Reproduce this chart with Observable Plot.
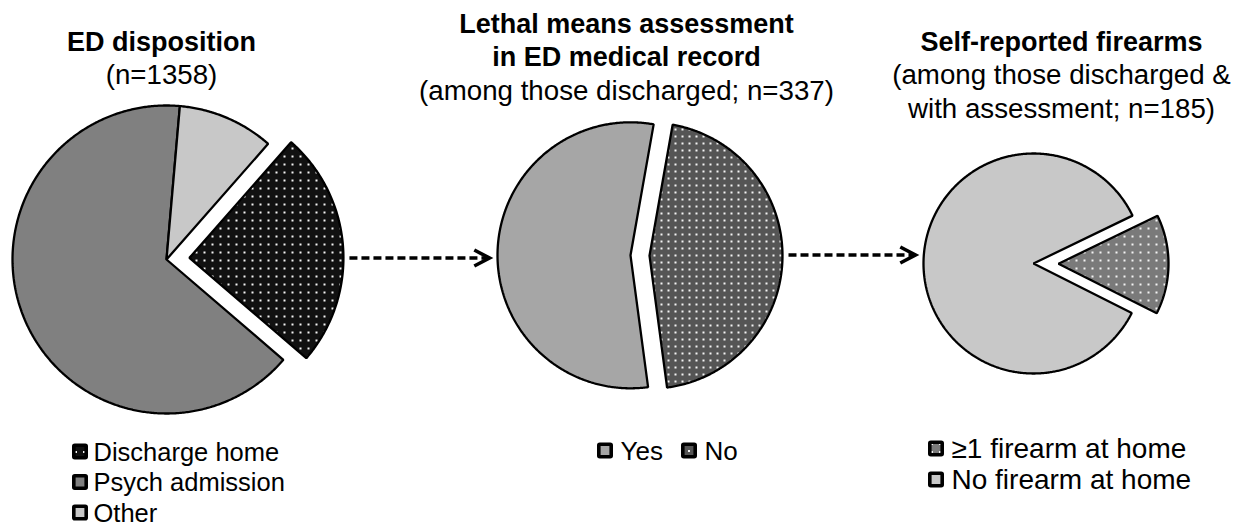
<!DOCTYPE html>
<html>
<head>
<meta charset="utf-8">
<script src="https://cdn.jsdelivr.net/npm/d3@7"></script>
<script src="https://cdn.jsdelivr.net/npm/@observablehq/plot@0.6"></script>
<style>
  html, body { margin: 0; padding: 0; background: #fff; }
</style>
</head>
<body>
<div id="chart"></div>
<script>
// ---------- data ----------
const dispositionCategories = ["Discharge home", "Psych admission", "Other"];
const dispositionCounts = [337, 884, 137];
const assessmentCategories = ["Yes", "No"];
const assessmentCounts = [185, 152];
const firearmCategories = ["≥1 firearm at home", "No firearm at home"];
const firearmCounts = [27, 158];
const panelTitles = [["ED disposition"], ["Lethal means assessment", "in ED medical record"], ["Self-reported firearms"]];
const panelSubtitles = [["(n=1358)"], ["(among those discharged; n=337)"], ["(among those discharged &", "with assessment; n=185)"]];

// ---------- styles ----------
const categoryFills = {
  "Discharge home": "url(#dots-black)",
  "Psych admission": "#808080",
  "Other": "#c8c8c8",
  "Yes": "#a6a6a6",
  "No": "url(#dots-dark)",
  "≥1 firearm at home": "url(#dots-mid)",
  "No firearm at home": "#c8c8c8"
};
const FONT = "Liberation Sans, Arial, Helvetica, sans-serif";

// ---------- layout ----------
const pies = [
  {cats: dispositionCategories, vals: dispositionCounts, cx: 166, cy: 259, r: 154, start: 41.3, explode: [23, 0, 0],
   titleX: 161, titleY: 50,
   legend: {x: 72, y: 460, dx: 0, dy: 30.5, gap: 21, size: 25.5}},
  {cats: assessmentCategories, vals: assessmentCounts, cx: 639.5, cy: 255, r: 133, start: 172.4, explode: [9.5, 9.5],
   titleX: 626, titleY: 32,
   legend: {x: 597, y: 459, dx: 84, dy: 0, gap: 23, size: 26}},
  {cats: firearmCategories, vals: firearmCounts, cx: 1033, cy: 263, r: 110, start: 64.2, explode: [25, 0],
   titleX: 1061, titleY: 50,
   legend: {x: 928, y: 457, dx: 0, dy: 31, gap: 23, size: 28}}
];
const lineH = 33.5;

// ---------- derived geometry ----------
const slicePoints = [];
const sliceExtent = [];
pies.forEach((p, pi) => {
  const a0 = p.start * Math.PI / 180;
  const arcs = d3.pie().sort(null).startAngle(a0).endAngle(a0 + 2 * Math.PI)(p.vals);
  arcs.forEach((a, i) => {
    const key = `${pi}-${i}`;
    const mid = (a.startAngle + a.endAngle) / 2;
    const e = p.explode[i] || 0;
    const ox = p.cx + e * Math.sin(mid), oy = p.cy - e * Math.cos(mid);
    slicePoints.push({key, category: p.cats[i], x: ox, y: oy});
    const n = Math.max(2, Math.ceil((a.endAngle - a.startAngle) / (Math.PI / 360)));
    for (let k = 0; k <= n; ++k) {
      const t = a.startAngle + (a.endAngle - a.startAngle) * k / n;
      slicePoints.push({key, category: p.cats[i], x: ox + p.r * Math.sin(t), y: oy - p.r * Math.cos(t)});
    }
  });
  const xs = slicePoints.filter(d => d.key.startsWith(pi + "-")).map(d => d.x);
  sliceExtent.push({left: d3.min(xs), right: d3.max(xs)});
});

const arrowYs = [257.5, 254.5];
const arrows = [0, 1].map(i => ({
  x1: sliceExtent[i].right + 6,
  x2: sliceExtent[i + 1].left - 8,
  y: arrowYs[i]
}));

const titleRows = [], subtitleRows = [];
pies.forEach((p, pi) => {
  panelTitles[pi].forEach((t, j) => titleRows.push({x: p.titleX, y: p.titleY + j * lineH, text: t}));
  const n0 = panelTitles[pi].length;
  panelSubtitles[pi].forEach((t, j) => subtitleRows.push({x: p.titleX, y: p.titleY + (n0 + j) * lineH, text: t}));
});

const legendItems = [];
pies.forEach((p, pi) => {
  const L = p.legend;
  p.cats.forEach((c, i) => {
    legendItems.push({panel: pi, category: c, sx: L.x + i * L.dx, base: L.y + i * L.dy, tx: L.x + i * L.dx + L.gap, size: L.size});
  });
});

const allCats = [...dispositionCategories, ...assessmentCategories, ...firearmCategories];

const chevron = {
  draw(context, size) {
    const r = Math.sqrt(size / Math.PI);
    context.moveTo(-1.9 * r, -r);
    context.lineTo(0, 0);
    context.lineTo(-1.9 * r, r);
  }
};

const sw = 3.6, box = 16;
const chart = Plot.plot({
  width: 1233,
  height: 525,
  margin: 0,
  x: {domain: [0, 1233], range: [0, 1233], axis: null},
  y: {domain: [0, 525], range: [0, 525], axis: null},
  color: {type: "ordinal", domain: allCats, range: allCats.map(c => categoryFills[c])},
  marks: [
    Plot.line(slicePoints, {x: "x", y: "y", z: "key", fill: "category", stroke: "black", strokeWidth: 2.3,
      curve: "linear-closed", strokeLinejoin: "miter"}),
    Plot.link(arrows, {x1: "x1", y1: "y", x2: d => d.x2 - 2, y2: "y", stroke: "black", strokeWidth: 3.4,
      strokeDasharray: "8,4"}),
    Plot.dot(arrows, {x: "x2", y: "y", r: 8, symbol: chevron, fill: "none", stroke: "black", strokeWidth: 3.6,
      strokeLinejoin: "miter"}),
    Plot.text(titleRows, {x: "x", y: "y", text: "text", fontSize: 27, fontWeight: "bold", fontFamily: FONT,
      lineAnchor: "bottom", fill: "black"}),
    Plot.text(subtitleRows, {x: "x", y: "y", text: "text", fontSize: 27.7, fontFamily: FONT,
      lineAnchor: "bottom", fill: "black"}),
    Plot.rect(legendItems, {x1: d => d.sx + sw / 2, x2: d => d.sx + box - sw / 2,
      y1: d => d.base - 16.5 + sw / 2, y2: d => d.base - 16.5 + box - sw / 2,
      fill: "category", stroke: "black", strokeWidth: sw, rx: 1, strokeLinejoin: "round"}),
    Plot.text(legendItems, {x: "tx", y: "base", text: "category", fontSize: "size", fontFamily: FONT,
      textAnchor: "start", lineAnchor: "bottom", fill: "black"})
  ]
});

// patterns used by the dotted slices
const defs = d3.select(chart).insert("defs", ":first-child");
[["dots-black", "#111111", 8], ["dots-dark", "#555555", 7], ["dots-mid", "#7a7a7a", 8]].forEach(([id, bg, s]) => {
  const pat = defs.append("pattern").attr("id", id).attr("patternUnits", "userSpaceOnUse")
    .attr("width", s).attr("height", s);
  pat.append("rect").attr("width", s).attr("height", s).attr("fill", bg);
  pat.append("rect").attr("x", Math.floor(s / 2) - 1).attr("y", Math.floor(s / 2) - 1)
    .attr("width", 2).attr("height", 2).attr("fill", "#f4f4f4");
});

document.getElementById("chart").appendChild(chart);
</script>
</body>
</html>
